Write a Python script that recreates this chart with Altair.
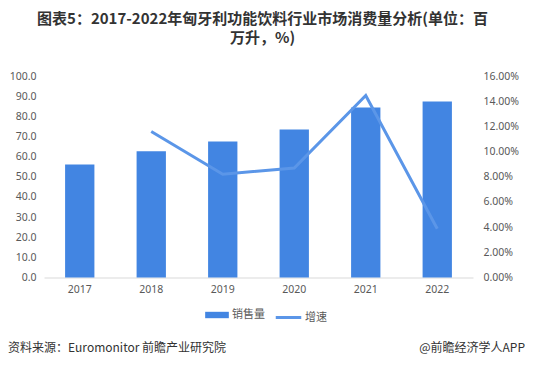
import altair as alt
import pandas as pd

years = ["2017", "2018", "2019", "2020", "2021", "2022"]
sales = [56.1, 62.7, 67.5, 73.4, 84.4, 87.3]
growth = [None, 0.116, 0.082, 0.087, 0.1445, 0.0387]
left_ticks = [0, 10, 20, 30, 40, 50, 60, 70, 80, 90, 100]
right_ticks = [0, 0.02, 0.04, 0.06, 0.08, 0.10, 0.12, 0.14, 0.16]

df = pd.DataFrame({"year": years, "sales": sales, "growth": growth,
                   "s1": "销售量", "s2": "增速"})

BAR = "#4285E2"
LINE = "#5B96E8"
LABEL = "#595959"
FONT = "Noto Sans"

x = alt.X("year:N", title=None, sort=years,
          scale=alt.Scale(paddingInner=0.59, paddingOuter=0.295),
          axis=alt.Axis(labelAngle=0, ticks=False, domainColor="#d9d9d9",
                        labelColor=LABEL, labelFont=FONT, labelFontSize=10.5,
                        labelPadding=7, grid=False))

bars = alt.Chart(df).mark_bar(color=BAR).encode(
    x=x,
    y=alt.Y("sales:Q", title=None,
            scale=alt.Scale(domain=[0, 100], nice=False),
            axis=alt.Axis(values=left_ticks, format=".1f", grid=False,
                          domain=False, ticks=False, labelColor=LABEL,
                          labelFont=FONT, labelFontSize=10.5, labelPadding=8)),
    color=alt.Color("s1:N", scale=alt.Scale(domain=["销售量"], range=[BAR]),
                    legend=alt.Legend(title=None, orient="none", legendX=161,
                                      legendY=227, symbolType="M-1,-0.27H1V0.27H-1Z",
                                      symbolSize=560, symbolStrokeWidth=0,
                                      labelFont="Noto Sans CJK SC", labelFontSize=11,
                                      labelColor=LABEL, labelOffset=3)),
)

line = alt.Chart(df).mark_line(strokeWidth=3, color=LINE).encode(
    x=x,
    y=alt.Y("growth:Q", title=None,
            scale=alt.Scale(domain=[0, 0.16], nice=False),
            axis=alt.Axis(orient="right", values=right_ticks, format=".2%",
                          grid=False, domain=False, ticks=False,
                          labelColor=LABEL, labelFont=FONT, labelFontSize=10.5,
                          labelPadding=10)),
    stroke=alt.Stroke("s2:N", scale=alt.Scale(domain=["增速"], range=[LINE]),
                      legend=alt.Legend(title=None, orient="none", legendX=230,
                                        legendY=227, symbolType="stroke",
                                        symbolSize=650, symbolStrokeWidth=3,
                                        labelFont="Noto Sans CJK SC", labelFontSize=11,
                                        labelColor=LABEL, labelOffset=2)),
)

foot = pd.DataFrame({"t": ["资料来源：Euromonitor 前瞻产业研究院"]})
foot2 = pd.DataFrame({"t": ["@前瞻经济学人APP"]})
src = alt.Chart(foot).mark_text(align="left", baseline="middle", fontSize=12,
                                font="Noto Sans CJK SC", color="#333333").encode(
    x=alt.value(-36), y=alt.value(271.5), text="t:N")
app = alt.Chart(foot2).mark_text(align="right", baseline="middle", fontSize=12,
                                 font="Noto Sans CJK SC", color="#333333").encode(
    x=alt.value(481), y=alt.value(271.5), text="t:N")

chart = alt.layer(bars, line, src, app).resolve_scale(
    y="independent", color="independent", stroke="independent"
).properties(
    width=429, height=201.5,
    title=alt.TitleParams(
        ["图表5：2017-2022年匈牙利功能饮料行业市场消费量分析(单位：百", "万升，%)"],
        font="Noto Sans CJK SC", fontSize=15, fontWeight="bold",
        color="#333333", anchor="middle", offset=25, lineHeight=19, dx=4),
    autosize=alt.AutoSizeParams(type="none"),
    padding={"left": 36, "top": 68, "right": 52, "bottom": 80},
).configure_view(stroke=None)

chart.save("out.html", embed_options={"renderer": "svg", "actions": False})
